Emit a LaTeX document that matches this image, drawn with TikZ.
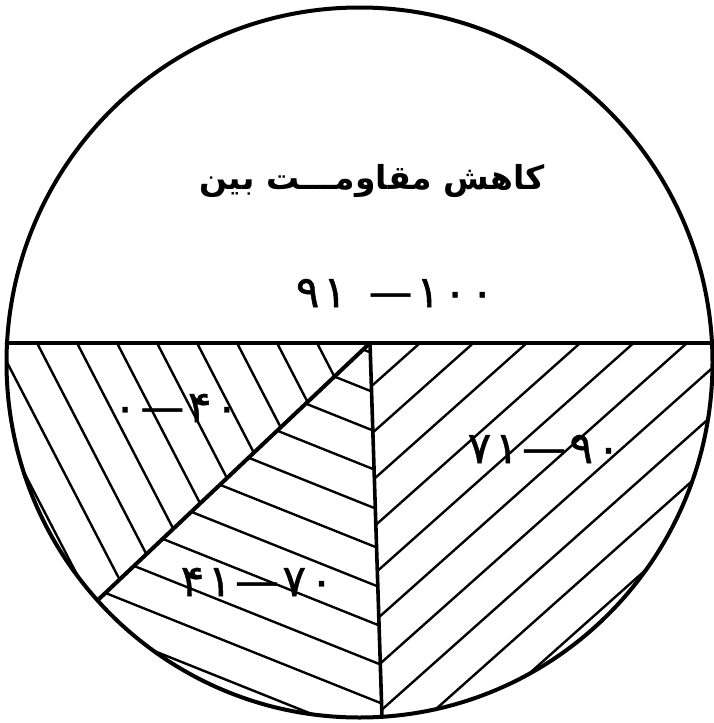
\documentclass[tikz,border=0pt]{standalone}
\usepackage{fontspec}
\TeXXeTstate=1
\newfontfamily\arabicfont[Script=Arabic,BoldFont={DejaVu Sans Bold}]{DejaVu Sans}
\newfontfamily\digitfont[LetterSpace=8,FakeBold=1]{DejaVu Sans}
\begin{document}
\begin{tikzpicture}[x=1pt,y=-1pt,
  outline/.style={line width=4pt,line join=round},
  divider/.style={line width=4.6pt,line cap=round},
  hatch/.style={line width=2.4pt},
  numlabel/.style={font=\digitfont\fontsize{44}{50}\selectfont,inner sep=0pt},
  titlelabel/.style={font=\arabicfont\bfseries\fontsize{33}{40}\selectfont,inner sep=0pt}]
\useasboundingbox (0,0) rectangle (713,723);
\coordinate (C) at (359.5,362.5);
\coordinate (HL) at (7,343);
\coordinate (HR) at (712,343);
\coordinate (J) at (370,343);
\coordinate (D) at (97.6,600.3);
\coordinate (V) at (382,716.8);
% hatching, clipped to the circle and to each sector
\begin{scope}
  \clip (C) ellipse [x radius=353pt, y radius=355pt];
  % left sector (0-40)
  \begin{scope}
    \clip (370,343) -- (-170,853) -- (-200,343) -- cycle;
    \foreach \k in {-2,...,7}{
      \pgfmathsetmacro{\xo}{37+40*\k}
      \draw[hatch] (\xo-100,343-193) -- (\xo+300,343+579);
    }
  \end{scope}
  % middle sector (41-70)
  \begin{scope}
    \clip (370,343) -- (-170,853) -- (386.4,853) -- cycle;
    \foreach \k in {-1,...,9}{
      \pgfmathsetmacro{\yo}{392+38.5*\k}
      \draw[hatch] (373-600,\yo-240) -- (373+60,\yo+24);
    }
  \end{scope}
  % right sector (71-90)
  \begin{scope}
    \clip (370,343) -- (386.4,853) -- (800,853) -- (800,343) -- cycle;
    \foreach \k in {0,...,9}{
      \pgfmathsetmacro{\xo}{420+53.4*\k}
      \draw[hatch] (\xo+100,343-89) -- (\xo-600,343+534);
    }
  \end{scope}
\end{scope}
% outline and dividers
\draw[outline] (C) ellipse [x radius=353pt, y radius=355pt];
\draw[divider] (HL) -- (HR);
\draw[line width=4pt] (J) -- (D);
\draw[line width=3.6pt] (J) -- (V);
% labels
\node[titlelabel] (title) at (372,181) {\beginR کاهش مقاومـــت بین\endR};
\node[numlabel] (top) at (395,293) {۹۱\kern22pt—۱۰۰};
\node[numlabel] (left) at (176,408) {۰—۴۰};
\node[numlabel] (mid) at (257,582) {۴۱—۷۰};
\node[numlabel] (right) at (544,449) {۷۱—۹۰};
\end{tikzpicture}
\end{document}
